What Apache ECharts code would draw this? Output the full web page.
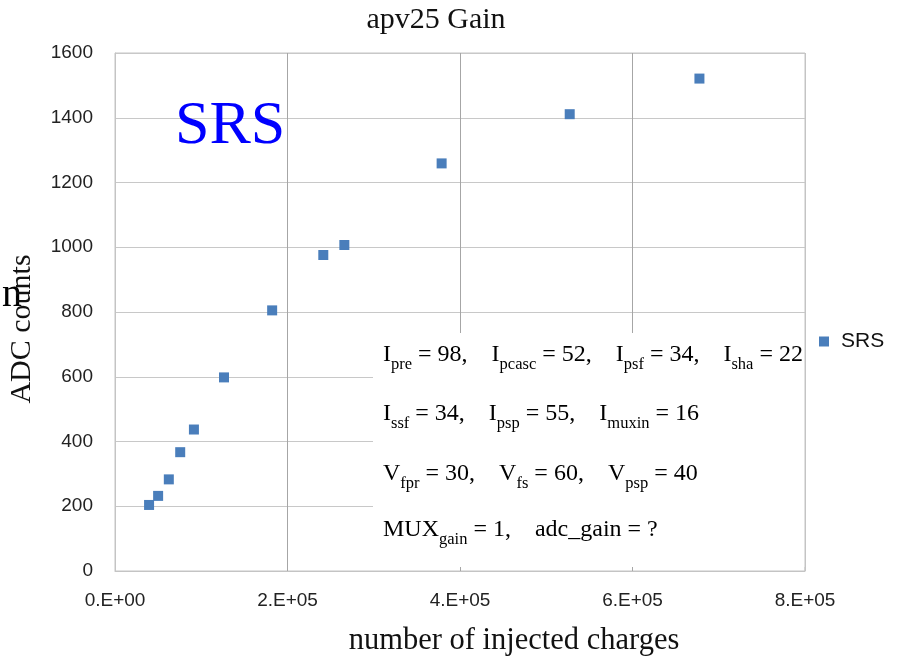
<!DOCTYPE html>
<html>
<head>
<meta charset="utf-8">
<script src="https://cdn.jsdelivr.net/npm/echarts@6/dist/echarts.min.js"></script>
<style>
  html, body { margin: 0; padding: 0; background: #ffffff; }
  #chart { width: 904px; height: 664px; }
</style>
</head>
<body>
<div id="chart"></div>
<script>
// Injected charge vs. measured ADC counts for the APV25 chip
const seriesName = 'SRS';
const injectedCharges = [39500, 50000, 62400, 75600, 91500, 126400, 182200, 241500, 265900, 378700, 527200, 677600];
const adcCounts = [204, 232, 283, 367, 437, 598, 805, 976, 1007, 1259, 1411, 1521];

// Axis ticks
const xTicks = [0, 200000, 400000, 600000, 800000];
const xTickLabels = ['0.E+00', '2.E+05', '4.E+05', '6.E+05', '8.E+05'];
const yTicks = [0, 200, 400, 600, 800, 1000, 1200, 1400, 1600];

// Texts
const chartTitle = 'apv25 Gain';
const xAxisTitle = 'number of injected charges';
const yAxisTitle = 'ADC counts';
const overlayLabel = 'SRS';
const stray = 'n';

// Bias settings annotation, one rich-text line per row
const settingsLines = [
  '{m|I}{s|pre}{m| = 98,    I}{s|pcasc}{m| = 52,    I}{s|psf}{m| = 34,    I}{s|sha}{m| = 22}',
  '{m|I}{s|ssf}{m| = 34,    I}{s|psp}{m| = 55,    I}{s|muxin}{m| = 16}',
  '{m|V}{s|fpr}{m| = 30,    V}{s|fs}{m| = 60,    V}{s|psp}{m| = 40}',
  '{m|MUX}{s|gain}{m| = 1,    adc_gain = ?}'
];

const SERIF = '"Liberation Serif", "Times New Roman", serif';
const SANS = '"Liberation Sans", Arial, sans-serif';
const MARK = '#4a7ebb';

const chart = echarts.init(document.getElementById('chart'), null, { renderer: 'canvas' });

const gridLeft = 115, gridTop = 53, gridW = 690, gridH = 518;

const richStyles = {
  m: { fontFamily: SERIF, fontSize: 24, lineHeight: 30, color: '#111' },
  s: { fontFamily: SERIF, fontSize: 16.5, lineHeight: 30, padding: [20, 0, 0, 0], color: '#111' }
};

const lineCenters = [355, 414, 474, 530];

const graphics = [
  { type: 'text', x: 436, y: 20, z: 10,
    style: { text: chartTitle, font: '30px ' + SERIF, fill: '#111', align: 'center', verticalAlign: 'middle' } },
  { type: 'text', x: 175, y: 127, z: 10,
    style: { text: overlayLabel, font: '62px ' + SERIF, fill: '#0000ff', align: 'left', verticalAlign: 'middle' } },
  { type: 'text', x: 22, y: 295, z: 10,
    style: { text: stray, font: '40px ' + SERIF, fill: '#000', align: 'right', verticalAlign: 'middle' } },
  { type: 'text', x: 22.5, y: 329, rotation: Math.PI / 2, z: 10,
    style: { text: yAxisTitle, font: '30px ' + SERIF, fill: '#111', align: 'center', verticalAlign: 'middle' } },
  { type: 'text', x: 514, y: 641, z: 10,
    style: { text: xAxisTitle, font: '30.5px ' + SERIF, fill: '#111', align: 'center', verticalAlign: 'middle' } },
  // annotation panel
  { type: 'rect', z: 5, shape: { x: 373, y: 333, width: 432, height: 234 },
    style: { fill: '#ffffff' } },
  { type: 'line', z: 6, shape: { x1: 805, y1: 333, x2: 805, y2: 571 },
    style: { stroke: '#c4c4c4', lineWidth: 1 } }
];

settingsLines.forEach(function (txt, i) {
  graphics.push({
    type: 'text', x: 383, y: lineCenters[i], z: 11,
    style: { text: txt, rich: richStyles, align: 'left', verticalAlign: 'middle' }
  });
});

const option = {
  backgroundColor: '#ffffff',
  animation: false,
  grid: { left: gridLeft, top: gridTop, width: gridW, height: gridH, show: true,
          borderColor: '#c4c4c4', borderWidth: 1, containLabel: false },
  legend: {
    data: [seriesName], left: 814, top: 326, orient: 'vertical',
    icon: 'rect', itemWidth: 10, itemHeight: 10,
    textStyle: { fontFamily: SANS, fontSize: 21, color: '#111', padding: [0, 0, 0, 7] }
  },
  xAxis: {
    type: 'value', min: xTicks[0], max: xTicks[xTicks.length - 1], interval: xTicks[1] - xTicks[0],
    axisLine: { show: true, lineStyle: { color: '#c4c4c4' } },
    axisTick: { show: false },
    axisLabel: {
      margin: 20, fontFamily: SANS, fontSize: 19, color: '#222',
      formatter: function (v) { const k = xTicks.indexOf(v); return k >= 0 ? xTickLabels[k] : ''; }
    },
    splitLine: { show: true, lineStyle: { color: ['#c4c4c4', '#a6a6a6', '#a6a6a6', '#a6a6a6', '#c4c4c4'] } }
  },
  yAxis: {
    type: 'value', min: yTicks[0], max: yTicks[yTicks.length - 1], interval: yTicks[1] - yTicks[0],
    axisLine: { show: true, lineStyle: { color: '#c4c4c4' } },
    axisTick: { show: false },
    axisLabel: { margin: 22, fontFamily: SANS, fontSize: 19, color: '#222',
                 formatter: function (v) { return String(v); } },
    splitLine: { show: true, lineStyle: { color: '#c8c8c8' } }
  },
  series: [{
    name: seriesName, type: 'scatter', symbol: 'rect', symbolSize: 10,
    itemStyle: { color: MARK, opacity: 1 },
    data: injectedCharges.map(function (x, i) { return [x, adcCounts[i]]; }),
    z: 3
  }],
  graphic: graphics
};

chart.setOption(option);
</script>
</body>
</html>
